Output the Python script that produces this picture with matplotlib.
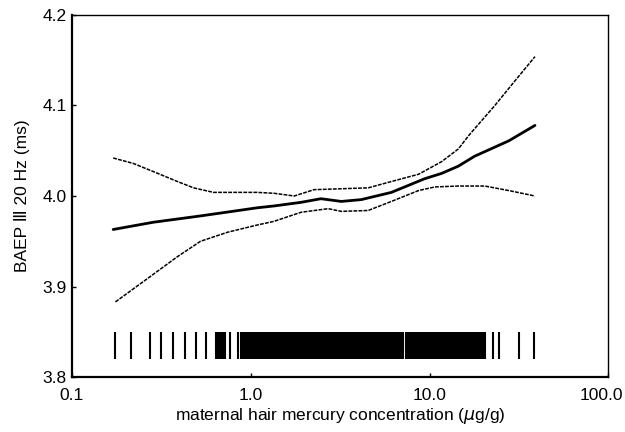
import matplotlib
matplotlib.use("Agg")
import matplotlib.pyplot as plt
from matplotlib.transforms import ScaledTranslation

plt.rcParams['font.family'] = ['Liberation Sans', 'DejaVu Sans', 'Noto Sans CJK JP']

# fitted curve and confidence band
fit_x = [0.17, 0.285, 0.524, 1.09, 1.35, 1.91, 2.47, 3.21, 4.15, 6.12, 9.37, 11.7, 14.5, 17.9, 27.8, 38.9]
fit_y = [3.963, 3.971, 3.978, 3.987, 3.989, 3.993, 3.997, 3.994, 3.996, 4.004, 4.019, 4.025, 4.033, 4.044, 4.061, 4.078]

upper_x = [0.17, 0.22, 0.285, 0.389, 0.479, 0.619, 0.802, 1.09, 1.35, 1.75, 2.26, 3.21, 4.54, 6.12, 8.68, 11.7, 14.5, 16.6, 23.2, 30.0, 38.9]
upper_y = [4.042, 4.036, 4.027, 4.016, 4.009, 4.004, 4.004, 4.004, 4.003, 4.000, 4.007, 4.008, 4.009, 4.016, 4.024, 4.038, 4.052, 4.067, 4.100, 4.127, 4.154]

lower_x = [0.175, 0.274, 0.389, 0.524, 0.743, 1.09, 1.35, 1.91, 2.71, 3.21, 4.54, 6.12, 8.68, 10.7, 14.5, 20.4, 27.8, 38.9]
lower_y = [3.883, 3.911, 3.933, 3.950, 3.960, 3.968, 3.972, 3.982, 3.986, 3.983, 3.984, 3.994, 4.006, 4.010, 4.011, 4.011, 4.006, 4.000]

# observed hair mercury values (rug)
rug_x = [0.174, 0.214, 0.274, 0.316, 0.365, 0.43, 0.497, 0.56, 0.636, 0.648, 0.66, 0.673, 0.687, 0.70, 0.715, 0.762,
         0.846, 0.88, 0.91,
         0.93, 0.95, 0.97, 0.99, 1.01, 1.04, 1.06, 1.09, 1.11, 1.14, 1.16, 1.19, 1.22, 1.25, 1.28, 1.31, 1.34, 1.37,
         1.40, 1.43, 1.47, 1.50, 1.54, 1.57, 1.61, 1.65, 1.69, 1.73, 1.77, 1.81, 1.85, 1.90, 1.94, 1.99, 2.03, 2.08,
         2.13, 2.18, 2.23, 2.28, 2.34, 2.39, 2.45, 2.51, 2.57, 2.63, 2.69, 2.75, 2.82, 2.88, 2.95, 3.02, 3.09, 3.17,
         3.24, 3.32, 3.40, 3.48, 3.56, 3.64, 3.73, 3.82, 3.91, 4.00, 4.09, 4.19, 4.29, 4.39, 4.49, 4.60, 4.71, 4.82,
         4.93, 5.05, 5.17, 5.29, 5.42, 5.55, 5.68, 5.81, 5.95, 6.09, 6.23, 6.38, 6.53, 6.68, 6.84, 7.00, 7.10,
         7.42, 7.60, 7.78, 7.96, 8.15, 8.35, 8.55, 8.75, 8.96, 9.17, 9.39, 9.61, 9.84, 10.1, 10.3, 10.45, 10.6, 10.8,
         10.95, 11.1, 11.3, 11.6, 11.9, 12.2, 12.5, 12.8, 13.1, 13.4, 13.7, 14.0, 14.3, 14.5, 14.7, 15.0, 15.4, 15.8,
         16.1, 16.5, 16.9, 17.3, 17.7, 18.1, 18.6, 19.0, 19.5, 19.9, 20.4, 22.6, 24.4, 31.6, 38.4]
rug_bottom = 3.82
rug_top = 3.85

x_ticks = [0.1, 1.0, 10.0, 100.0]
x_labels = ['0.1', '1.0', '10.0', '100.0']
y_ticks = [3.8, 3.9, 4.0, 4.1, 4.2]

fig = plt.figure(figsize=(6.25, 4.32), dpi=100)
ax = fig.add_axes([0.1152, 0.1273, 0.858, 0.838])

ax.plot(fit_x, fit_y, color='black', linewidth=2.0, solid_capstyle='round')
ax.plot(upper_x, upper_y, color='black', linewidth=1.1, linestyle=(0, (2.5, 0.8)))
ax.plot(lower_x, lower_y, color='black', linewidth=1.1, linestyle=(0, (2.5, 0.8)))
ax.vlines(rug_x, rug_bottom, rug_top, color='black', linewidth=1.5)

ax.set_xscale('log')
ax.set_xlim(0.1, 100)
ax.set_ylim(3.8, 4.2)
ax.set_xticks(x_ticks)
ax.set_xticklabels(x_labels)
ax.minorticks_off()
ax.set_yticks(y_ticks)
ax.set_yticklabels(['%.1f' % v for v in y_ticks])
ax.tick_params(direction='in', length=3, width=1, labelsize=12.5)
ax.tick_params(axis='x', pad=8)
ax.tick_params(axis='y', pad=4)

# last x label sits a little inside the right edge in the original
last = ax.get_xticklabels()[-1]
last.set_transform(last.get_transform() + ScaledTranslation(-0.07, 0, fig.dpi_scale_trans))

for side in ['left', 'bottom']:
    ax.spines[side].set_linewidth(1.6)
for side in ['top', 'right']:
    ax.spines[side].set_linewidth(1.0)

ax.set_xlabel(r'maternal hair mercury concentration ($\mu$g/g)', fontsize=12.5, labelpad=2)
ax.set_ylabel('BAEP \u2162 20 Hz (ms)', fontsize=12.5, labelpad=9)

fig.savefig('out.png', dpi=100)
